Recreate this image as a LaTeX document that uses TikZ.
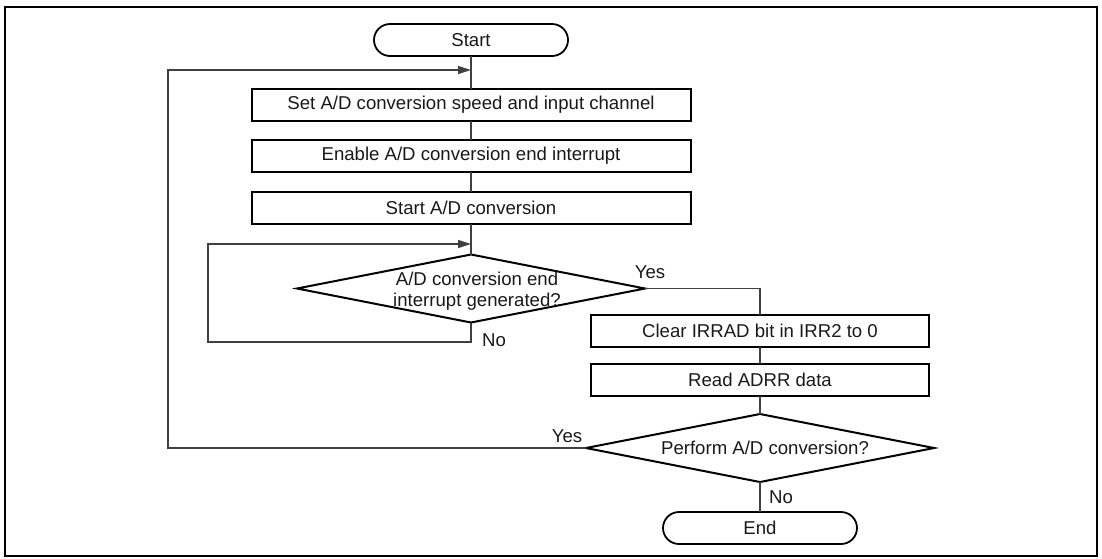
\documentclass[tikz,border=0pt]{standalone}
\usepackage{fontspec}
\setmainfont{Liberation Sans}
\usetikzlibrary{shapes.geometric,arrows.meta}
\begin{document}
\begin{tikzpicture}[x=1pt,y=-1pt,
  every node/.style={font=\fontsize{18.6}{21}\selectfont, text=black!90},
  procbox/.style={draw=black, line width=2pt, rectangle, minimum width=439pt, minimum height=32pt, inner sep=0pt, outer sep=0pt},
  procbox2/.style={draw=black, line width=2pt, rectangle, minimum width=338pt, minimum height=32pt, inner sep=0pt, outer sep=0pt},
  terminal/.style={draw=black, line width=1.8pt, rectangle, rounded corners=16pt, minimum width=194pt, minimum height=32pt, inner sep=0pt, outer sep=0pt},
  decision/.style={draw=black, line width=2pt, diamond, minimum width=348pt, minimum height=68pt, inner sep=0pt, outer sep=0pt},
  conn/.style={draw=black!75, line width=1.2pt},
  arrowconn/.style={conn, -{Triangle[length=13pt,width=8pt]}},
  lbl/.style={inner sep=0pt}
]
\useasboundingbox (0,0) rectangle (1102,558);
\draw[line width=2pt] (5,7) rectangle (1097,556);

% left column
\node[terminal] (start) at (471,40) {Start};
\node[procbox] (b1) at (471,104.5) {Set A/D conversion speed and input channel};
\node[procbox] (b2) at (471,156) {Enable A/D conversion end interrupt};
\node[procbox] (b3) at (471,207.5) {Start A/D conversion};
\node[decision] (d1) at (471,288.5) {};
\node[align=center, lbl] (d1t) at (477,291) {A/D conversion end\\interrupt generated?};

% right column
\node[procbox2] (b4) at (760,331) {Clear IRRAD bit in IRR2 to 0};
\node[procbox2] (b5) at (760,380) {Read ADRR data};
\node[decision] (d2) at (760,448) {};
\node[lbl] (d2t) at (765,448) {Perform A/D conversion?};
\node[terminal] (end) at (760,528) {End};

% labels
\node[lbl] (yes1) at (650,272) {Yes};
\node[lbl] (no1) at (494,340) {No};
\node[lbl] (yes2) at (567,436) {Yes};
\node[lbl] (no2) at (781,497) {No};

% junctions
\coordinate (j1) at (471,70);
\coordinate (loopA) at (168,70);
\coordinate (j2) at (471,244);
\coordinate (loopB) at (208,342);

% connectors
\draw[conn] (start.south) -- (b1.north);
\draw[conn] (b1.south) -- (b2.north);
\draw[conn] (b2.south) -- (b3.north);
\draw[conn] (b3.south) -- (d1.north);
\draw[conn] (d1.east) -| (b4.north);
\draw[conn] (b4.south) -- (b5.north);
\draw[conn] (b5.south) -- (d2.north);
\draw[conn] (d2.south) -- (end.north);
\draw[arrowconn] (d1.south) |- (loopB) |- (j2);
\draw[arrowconn] (d2.west) -| (loopA) -- (j1);
\end{tikzpicture}
\end{document}
